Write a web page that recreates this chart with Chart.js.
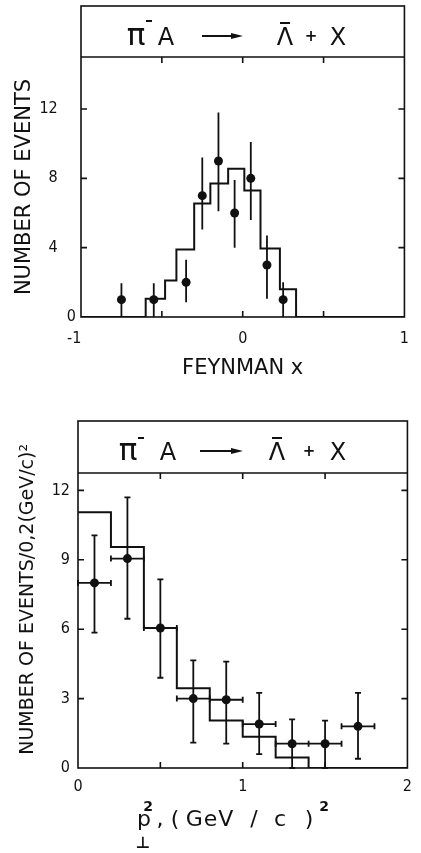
<!DOCTYPE html>
<html>
<head>
<meta charset="utf-8">
<script src="https://cdn.jsdelivr.net/npm/chart.js@4.4.1/dist/chart.umd.min.js"></script>
<style>
  html, body { margin: 0; padding: 0; background: #fff; }
  #wrap { position: relative; width: 421px; height: 853px; }
  canvas { position: absolute; left: 0; }
</style>
</head>
<body>
<div id="wrap">
  <canvas id="chartXF" width="421" height="400" style="top:0"></canvas>
  <canvas id="chartPT" width="421" height="453" style="top:400px"></canvas>
</div>
<script>
// ---- top panel: Feynman x ----
const xfTicksX = [-1, -0.5, 0, 0.5, 1];
const xfTicksY = [0, 4, 8, 12];
const xfPointX = [-0.75, -0.55, -0.35, -0.25, -0.15, -0.05, 0.05, 0.15, 0.25];
const xfEvents = [1, 1, 2, 7, 9, 6, 8, 3, 1];
const xfErrLow = [0, 0, 0.85, 5.05, 6.1, 4.0, 5.6, 1.05, 0];
const xfErrHigh = [1.95, 1.95, 3.3, 9.2, 11.8, 7.9, 10.1, 4.7, 2.0];
const xfEdges = [-1, -0.60, -0.48, -0.41, -0.30, -0.20, -0.09, 0.01, 0.11, 0.23, 0.33, 1];
const xfModel = [0, 1.05, 2.1, 3.9, 6.55, 7.7, 8.55, 7.3, 3.95, 1.6, 0, 0];

// ---- bottom panel: pT^2 ----
const ptTicksX = [0, 0.5, 1, 1.5, 2];
const ptTicksY = [0, 3, 6, 9, 12];
const ptPointX = [0.1, 0.3, 0.5, 0.7, 0.9, 1.1, 1.3, 1.5, 1.7];
const ptEvents = [8, 9.05, 6.05, 3, 2.95, 1.9, 1.05, 1.05, 1.8];
const ptErrLow = [5.85, 6.45, 3.9, 1.1, 1.05, 0.6, 0, 0, 0.4];
const ptErrHigh = [10.05, 11.7, 8.15, 4.65, 4.6, 3.25, 2.1, 2.05, 3.25];
const ptBinLow = [0, 0.2, 0.4, 0.6, 0.8, 1.0, 1.2, 1.4, 1.6];
const ptBinHigh = [0.2, 0.4, 0.6, 0.8, 1.0, 1.2, 1.4, 1.6, 1.8];
const ptEdges = [0, 0.2, 0.4, 0.6, 0.8, 1.0, 1.2, 1.4, 2];
const ptModel = [11.05, 9.55, 6.05, 3.45, 2.05, 1.35, 0.45, 0, 0];

const INK = '#111';
const FONT = "'DejaVu Sans', sans-serif";
const FONT_NARROW = "'DejaVu Sans Condensed', 'Liberation Sans Narrow', 'DejaVu Sans', sans-serif";

// frame box, header band and inward tick marks on all four sides
const framePlugin = {
  id: 'frame',
  afterDraw(chart, args, opts) {
    const { ctx, chartArea: a, scales: { x, y } } = chart;
    ctx.save();
    ctx.strokeStyle = INK;
    ctx.lineWidth = 1.6;
    ctx.strokeRect(a.left, opts.bandTop, a.right - a.left, a.bottom - opts.bandTop);
    ctx.beginPath();
    ctx.moveTo(a.left, a.top);
    ctx.lineTo(a.right, a.top);
    x.ticks.forEach(t => {
      const px = x.getPixelForValue(t.value);
      if (px <= a.left + 1 || px >= a.right - 1) return;
      ctx.moveTo(px, a.bottom); ctx.lineTo(px, a.bottom - opts.len);
      ctx.moveTo(px, a.top); ctx.lineTo(px, a.top + opts.len);
    });
    y.ticks.forEach(t => {
      const py = y.getPixelForValue(t.value);
      if (py >= a.bottom - 1) return;
      ctx.moveTo(a.left, py); ctx.lineTo(a.left + opts.len, py);
      ctx.moveTo(a.right, py); ctx.lineTo(a.right - opts.len, py);
    });
    ctx.stroke();

    // reaction in the header band
    const h = opts.header;
    const base = a.top - h.base;
    const L = a.left;
    ctx.fillStyle = INK;
    ctx.textAlign = 'center';
    ctx.textBaseline = 'alphabetic';
    ctx.font = '31px ' + FONT;
    ctx.fillText('π', L + h.pi, base);
    ctx.font = '24px ' + FONT;
    ctx.fillText('A', L + h.a, base);
    ctx.fillText('Λ', L + h.lam, base);
    ctx.fillText('X', L + h.x, base);
    ctx.font = 'bold 15px ' + FONT;
    ctx.fillText('+', L + h.plus, base - 4);
    ctx.lineWidth = 2;
    ctx.beginPath();
    ctx.moveTo(L + h.pi + 10, base - h.sup); ctx.lineTo(L + h.pi + 16, base - h.sup);
    ctx.moveTo(L + h.lam - 5, base - 22); ctx.lineTo(L + h.lam + 5, base - 22);
    ctx.moveTo(L + h.arrow[0], base - 9); ctx.lineTo(L + h.arrow[1] - 8, base - 9);
    ctx.stroke();
    ctx.beginPath();
    ctx.moveTo(L + h.arrow[1] - 12, base - 12);
    ctx.lineTo(L + h.arrow[1], base - 9);
    ctx.lineTo(L + h.arrow[1] - 12, base - 6);
    ctx.closePath();
    ctx.fill();
    ctx.restore();
  }
};

// vertical (and optional horizontal) error bars read through the scales
const errorBarPlugin = {
  id: 'errorBars',
  afterDatasetsDraw(chart, args, opts) {
    const { ctx, scales: { x, y } } = chart;
    ctx.save();
    ctx.strokeStyle = INK;
    ctx.lineWidth = 1.8;
    ctx.beginPath();
    opts.x.forEach((xv, i) => {
      const px = x.getPixelForValue(xv);
      const lo = y.getPixelForValue(opts.low[i]);
      const hi = y.getPixelForValue(opts.high[i]);
      ctx.moveTo(px, lo); ctx.lineTo(px, hi);
      if (opts.cap) {
        ctx.moveTo(px - opts.cap, lo); ctx.lineTo(px + opts.cap, lo);
        ctx.moveTo(px - opts.cap, hi); ctx.lineTo(px + opts.cap, hi);
      }
      if (opts.xLow) {
        const py = y.getPixelForValue(opts.y[i]);
        const l = x.getPixelForValue(opts.xLow[i]);
        const r = x.getPixelForValue(opts.xHigh[i]);
        ctx.moveTo(l, py); ctx.lineTo(r, py);
        ctx.moveTo(l, py - opts.cap); ctx.lineTo(l, py + opts.cap);
        ctx.moveTo(r, py - opts.cap); ctx.lineTo(r, py + opts.cap);
      }
    });
    ctx.stroke();
    ctx.restore();
  }
};

// p_perp^2 axis title with stacked sub/superscript
const ptTitlePlugin = {
  id: 'ptTitle',
  afterDraw(chart) {
    const { ctx, chartArea: a } = chart;
    const L = a.left, B = a.bottom;
    ctx.save();
    ctx.fillStyle = INK;
    ctx.textAlign = 'center';
    ctx.textBaseline = 'alphabetic';
    ctx.font = '22px ' + FONT;
    ctx.fillText('p', L + 66, B + 58);
    ctx.fillText(',', L + 82, B + 58);
    ctx.fillText('(', L + 97, B + 58);
    ctx.letterSpacing = '1px';
    ctx.fillText('GeV', L + 132, B + 58);
    ctx.letterSpacing = '0px';
    ctx.fillText('/', L + 176, B + 58);
    ctx.fillText('c', L + 202, B + 58);
    ctx.fillText(')', L + 231, B + 58);
    ctx.font = 'bold 14px ' + FONT;
    ctx.fillText('2', L + 70, B + 43);
    ctx.fillText('2', L + 246, B + 43);
    ctx.font = 'bold 16px ' + FONT;
    ctx.fillText('⊥', L + 65, B + 80);
    ctx.restore();
  }
};

function tickSetter(list) {
  return s => { s.ticks = list.map(v => ({ value: v })); };
}

// top chart
new Chart(document.getElementById('chartXF'), {
  type: 'scatter',
  data: {
    datasets: [
      {
        data: xfPointX.map((x, i) => ({ x, y: xfEvents[i] })),
        pointRadius: 4.5,
        pointBackgroundColor: INK,
        pointBorderColor: INK,
        pointBorderWidth: 0
      },
      {
        data: xfEdges.map((x, i) => ({ x, y: xfModel[i] })),
        showLine: true,
        stepped: true,
        pointRadius: 0,
        borderColor: INK,
        borderWidth: 2,
        fill: false
      }
    ]
  },
  options: {
    responsive: false,
    animation: false,
    layout: { padding: { top: 57, right: 3, left: 0, bottom: 0 } },
    plugins: {
      legend: { display: false },
      tooltip: { enabled: false },
      frame: {
        bandTop: 6, len: 6,
        header: { base: 12, pi: 55, sup: 24, a: 85, arrow: [121, 162], lam: 204, plus: 230, x: 257 }
      },
      errorBars: { x: xfPointX, low: xfErrLow, high: xfErrHigh, cap: 0 }
    },
    scales: {
      x: {
        type: 'linear', min: -1, max: 1,
        afterBuildTicks: tickSetter(xfTicksX),
        afterFit: s => { s.height = 83; },
        grid: { display: false, drawTicks: false },
        border: { display: false },
        ticks: {
          color: INK, autoSkip: false, maxRotation: 0, padding: 12,
          font: { size: 16, family: FONT_NARROW },
          callback: v => v === -1 ? '-1   ' : (Number.isInteger(v) ? String(v) : '')
        },
        title: {
          display: true, text: 'FEYNMAN x', color: INK,
          font: { size: 21, family: FONT, lineHeight: 1.2 },
          padding: { top: 0, bottom: 19 }
        }
      },
      y: {
        min: 0, max: 15,
        afterBuildTicks: tickSetter(xfTicksY),
        afterFit: s => { s.width = 81; },
        grid: { display: false, drawTicks: false },
        border: { display: false },
        ticks: {
          color: INK, padding: 5,
          font: { size: 16, family: FONT_NARROW },
          callback: v => v === 0 ? '0' : v + '    '
        },
        title: {
          display: true, text: 'NUMBER OF EVENTS', color: INK,
          font: { size: 21, family: FONT, lineHeight: 1.2 },
          padding: { top: 12, bottom: 0 }
        }
      }
    }
  },
  plugins: [errorBarPlugin, framePlugin]
});

// bottom chart
new Chart(document.getElementById('chartPT'), {
  type: 'scatter',
  data: {
    datasets: [
      {
        data: ptPointX.map((x, i) => ({ x, y: ptEvents[i] })),
        pointRadius: 4.5,
        pointBackgroundColor: INK,
        pointBorderColor: INK,
        pointBorderWidth: 0
      },
      {
        data: ptEdges.map((x, i) => ({ x, y: ptModel[i] })),
        showLine: true,
        stepped: true,
        pointRadius: 0,
        borderColor: INK,
        borderWidth: 2,
        fill: false
      }
    ]
  },
  options: {
    responsive: false,
    animation: false,
    layout: { padding: { top: 73, right: 4, left: 0, bottom: 0 } },
    plugins: {
      legend: { display: false },
      tooltip: { enabled: false },
      frame: {
        bandTop: 21, len: 6,
        header: { base: 13, pi: 50, sup: 22, a: 90, arrow: [122, 165], lam: 199, plus: 231, x: 260 }
      },
      errorBars: {
        x: ptPointX, y: ptEvents, low: ptErrLow, high: ptErrHigh,
        xLow: ptBinLow, xHigh: ptBinHigh, cap: 3
      }
    },
    scales: {
      x: {
        type: 'linear', min: 0, max: 2,
        afterBuildTicks: tickSetter(ptTicksX),
        afterFit: s => { s.height = 85; },
        grid: { display: false, drawTicks: false },
        border: { display: false },
        ticks: {
          color: INK, autoSkip: false, maxRotation: 0, padding: 9,
          font: { size: 16, family: FONT_NARROW },
          callback: v => Number.isInteger(v) ? String(v) : ''
        }
      },
      y: {
        min: 0, max: 12.75,
        afterBuildTicks: tickSetter(ptTicksY),
        afterFit: s => { s.width = 78; },
        grid: { display: false, drawTicks: false },
        border: { display: false },
        ticks: {
          color: INK, padding: 8,
          font: { size: 16, family: FONT_NARROW }
        },
        title: {
          display: true, text: '       NUMBER OF EVENTS/0,2(GeV/c)²', color: INK,
          font: { size: 19, family: FONT, lineHeight: 1.2 },
          padding: { top: 17, bottom: 0 }
        }
      }
    }
  },
  plugins: [errorBarPlugin, framePlugin, ptTitlePlugin]
});
</script>
</body>
</html>
